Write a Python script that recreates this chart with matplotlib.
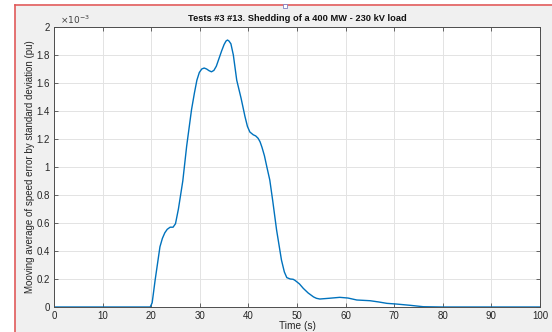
import matplotlib
matplotlib.use("Agg")
import matplotlib.pyplot as plt
from matplotlib.lines import Line2D
from matplotlib.ticker import FuncFormatter, MultipleLocator

plt.rcParams["font.family"] = ["Liberation Sans", "DejaVu Sans"]

# moving average of the speed error / standard deviation, in pu
tiempo = [0, 5, 10, 15, 19.0, 19.8, 20.2, 20.8, 21.3, 21.8, 22.3, 22.8, 23.3,
          23.9, 24.5, 25.0, 25.6, 26.5, 27.3, 28.3, 28.9, 29.4, 29.9, 30.4,
          30.9, 31.4, 31.9, 32.4, 32.9, 33.4, 34.0, 34.5, 35.0, 35.4, 35.7,
          36.0, 36.4, 36.9, 37.6, 38.5, 39.3, 39.8, 40.3, 41.0, 41.5, 42.0,
          42.4, 42.8, 43.3, 43.8, 44.4, 45.0, 45.8, 46.8, 47.4, 47.9, 48.6,
          49.2, 49.6, 50.5, 51.3, 52.3, 53.4, 54.0, 54.7, 56.5, 58.8, 60.5,
          62.3, 65.0, 66.8, 68.5, 70.5, 73.3, 76.0, 80, 90, 100]
error = [0, 0, 0, 0, 0, 0, 0.03e-3, 0.19e-3, 0.31e-3, 0.43e-3, 0.49e-3,
         0.53e-3, 0.555e-3, 0.57e-3, 0.57e-3, 0.595e-3, 0.70e-3, 0.90e-3,
         1.15e-3, 1.41e-3, 1.53e-3, 1.62e-3, 1.675e-3, 1.70e-3, 1.707e-3,
         1.70e-3, 1.688e-3, 1.68e-3, 1.69e-3, 1.72e-3, 1.78e-3, 1.83e-3,
         1.875e-3, 1.90e-3, 1.907e-3, 1.90e-3, 1.88e-3, 1.80e-3, 1.62e-3,
         1.49e-3, 1.36e-3, 1.29e-3, 1.25e-3, 1.23e-3, 1.222e-3, 1.205e-3,
         1.18e-3, 1.14e-3, 1.08e-3, 1.0e-3, 0.907e-3, 0.76e-3, 0.55e-3,
         0.336e-3, 0.25e-3, 0.21e-3, 0.20e-3, 0.198e-3, 0.19e-3, 0.165e-3,
         0.133e-3, 0.10e-3, 0.072e-3, 0.062e-3, 0.057e-3, 0.062e-3, 0.069e-3,
         0.064e-3, 0.05e-3, 0.045e-3, 0.036e-3, 0.026e-3, 0.021e-3, 0.012e-3,
         0.002e-3, 0, 0, 0]

titulo = "Tests #3 #13. Shedding of a 400 MW - 230 kV load"
etiquetaY = "Mooving average of speed error by standard deviation (pu)"
etiquetaX = "Time (s)"

colorEjes = "#4d4d4d"

fig = plt.figure(figsize=(5.52, 3.32), dpi=100)
fig.patch.set_facecolor("white")

# gray panel inside the red selection frame
panel = plt.Rectangle((14.5 / 552, 0), 1, 1 - 5.5 / 332, transform=fig.transFigure,
                      facecolor="#f0f0f0", edgecolor="none", zorder=-2)
fig.patches.append(panel)
fig.add_artist(Line2D([14.5 / 552, 14.5 / 552], [0, 1 - 5 / 332], color="#e05a5a",
                      lw=1.2, transform=fig.transFigure))
fig.add_artist(Line2D([14.5 / 552, 1], [1 - 5 / 332, 1 - 5 / 332], color="#e05a5a",
                      lw=1.2, transform=fig.transFigure))
fig.add_artist(Line2D([285 / 552], [1 - 5.5 / 332], marker="s", markersize=2.5,
                      markerfacecolor="#ffffff", markeredgecolor="#8080c0",
                      markeredgewidth=0.6, transform=fig.transFigure))

ax = fig.add_axes([54 / 552, 1 - 307 / 332, 486 / 552, 280 / 332])
ax.set_facecolor("white")

ax.plot(tiempo, error, color="#0072BD", lw=1.0)

ax.set_xlim(0, 100)
ax.set_ylim(0, 2e-3)
ax.xaxis.set_major_locator(MultipleLocator(10))
ax.yaxis.set_major_locator(MultipleLocator(0.2e-3))
ax.yaxis.set_major_formatter(FuncFormatter(lambda v, p: f"{v * 1e3:g}"))

ax.grid(True, color="#e3e3e3", lw=0.7)
ax.set_axisbelow(True)
ax.tick_params(direction="in", top=True, right=True, length=3, width=0.6,
               colors=colorEjes, labelsize=7, labelcolor="#262626", pad=3)
for s in ax.spines.values():
    s.set_color(colorEjes)
    s.set_linewidth(0.7)

ax.text(0.012, 1.005, r"$\times10^{-3}$", transform=ax.transAxes, fontsize=6.5,
        color="#404040", ha="left", va="bottom")

ax.set_title(titulo, fontsize=6.7, fontweight="bold", color="#111111", pad=4)
ax.set_ylabel(etiquetaY, fontsize=7, color="#262626", labelpad=1)
ax.set_xlabel(etiquetaX, fontsize=7.3, color="#262626", labelpad=0)

fig.savefig("out.png", dpi=100)
